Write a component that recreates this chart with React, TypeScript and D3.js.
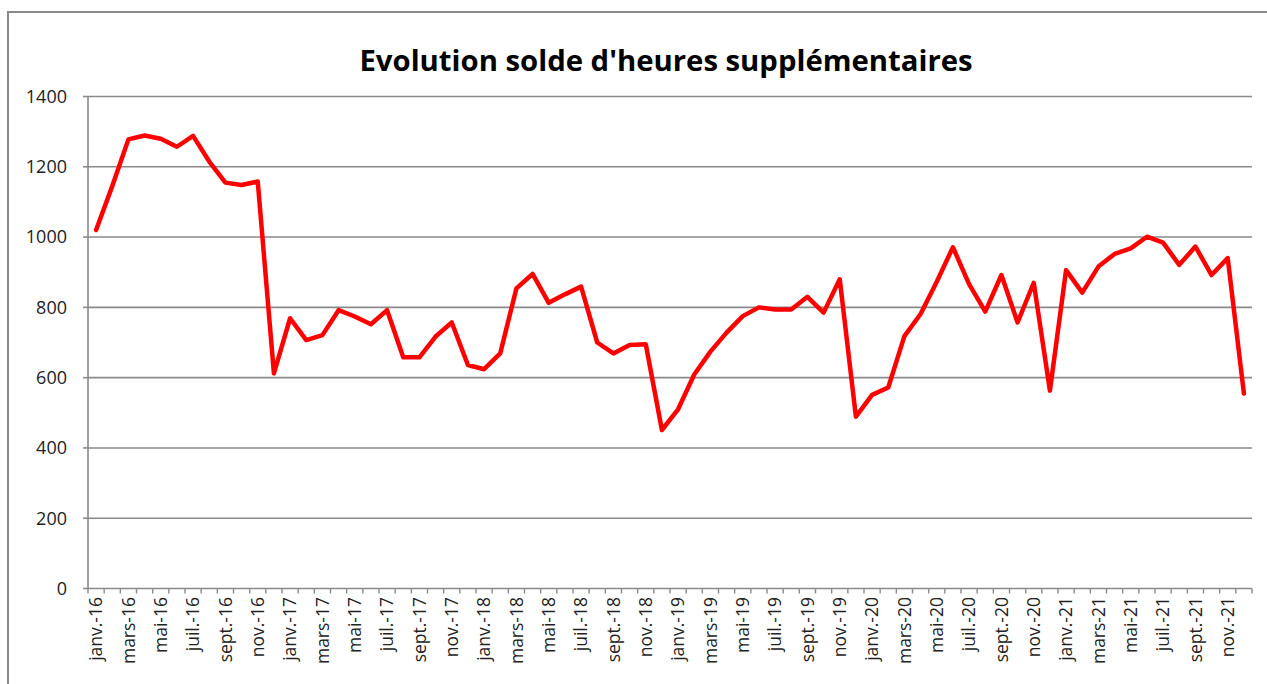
import React from "react";
import * as d3 from "d3";

const monthNames = ["janv.", "févr.", "mars", "avr.", "mai", "juin", "juil.", "août", "sept.", "oct.", "nov.", "déc."];
const years = ["16", "17", "18", "19", "20", "21"];
const categories: string[] = years.flatMap((y) => monthNames.map((m) => `${m}-${y}`));

const values: number[] = [
  1020, 1145, 1278, 1289, 1280, 1257, 1288, 1215, 1155, 1148, 1158, 612,
  769, 707, 721, 792, 774, 752, 792, 658, 658, 717, 757, 636,
  624, 669, 854, 895, 813, 837, 859, 700, 669, 693, 695, 451,
  510, 609, 674, 728, 775, 800, 794, 794, 830, 785, 880, 489,
  551, 572, 718, 781, 873, 971, 866, 788, 892, 757, 870, 563,
  906, 842, 916, 952, 968, 1001, 984, 921, 973, 892, 940, 555,
];

const yTicks = [0, 200, 400, 600, 800, 1000, 1200, 1400];
const title = "Evolution solde d'heures supplémentaires";

export default function App() {
  const W = 1267, H = 684;
  const left = 88, right = 1252, top = 96.5, bottom = 588.5;
  const x = d3.scaleBand<number>().domain(d3.range(categories.length)).range([left, right]).paddingInner(0).paddingOuter(0);
  const y = d3.scaleLinear().domain([0, 1400]).range([bottom, top]);
  const line = d3.line<number>().x((_, i) => (x(i) as number) + x.bandwidth() / 2).y((d) => y(d));
  const gray = "#8a8a8a";
  const font = "'Open Sans', 'Noto Sans', sans-serif";
  const boundaries = d3.range(categories.length + 1).map((i) => left + i * x.bandwidth());

  return (
    <svg width={W} height={H} style={{ position: "absolute", left: 0, top: 0 }} fontFamily={font}>
      <rect x={0} y={0} width={W} height={H} fill="#fff" />
      <path d={`M8,${H} L8,12 L${W},12`} fill="none" stroke={gray} strokeWidth={2} />
      <text x={666} y={71} textAnchor="middle" fontSize={29.3} fontWeight="bold" fill="#000">{title}</text>
      {yTicks.map((t) => (
        <g key={t}>
          {t > 0 && <line x1={left} x2={right} y1={y(t)} y2={y(t)} stroke={gray} strokeWidth={1.6} />}
          <line x1={left - 5} x2={left} y1={y(t)} y2={y(t)} stroke={gray} strokeWidth={1.6} />
          <text x={67} y={y(t)} dy="0.35em" textAnchor="end" fontSize={18} fill="#222">{t}</text>
        </g>
      ))}
      <line x1={left} x2={left} y1={top} y2={bottom} stroke={gray} strokeWidth={1.6} />
      <line x1={left} x2={right} y1={bottom} y2={bottom} stroke={gray} strokeWidth={1.6} />
      {boundaries.map((bx, i) => (
        <line key={i} x1={bx} x2={bx} y1={bottom} y2={bottom + 5} stroke={gray} strokeWidth={1.4} />
      ))}
      {categories.map((c, i) =>
        i % 2 === 0 ? (
          <text
            key={c}
            transform={`translate(${(x(i) as number) + x.bandwidth() / 2},597) rotate(-90)`}
            textAnchor="end"
            dy="0.35em"
            fontSize={17.5}
            fill="#222"
          >
            {c}
          </text>
        ) : null
      )}
      <path d={line(values) || ""} fill="none" stroke="#ff0000" strokeWidth={4.5} strokeLinejoin="round" strokeLinecap="round" />
    </svg>
  );
}
